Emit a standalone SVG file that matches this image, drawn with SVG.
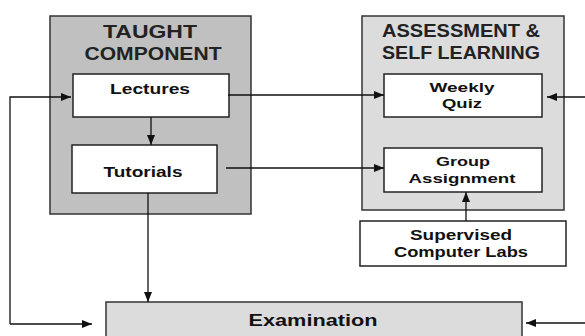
<svg xmlns="http://www.w3.org/2000/svg" width="585" height="336" viewBox="0 0 585 336">
<defs>
<marker id="ah" markerWidth="10" markerHeight="8" refX="10" refY="4" orient="auto" markerUnits="userSpaceOnUse">
<path d="M0,0 L10,4 L0,8 Z" fill="#111"/>
</marker>
<style>
.panelA{fill:#c0c0c0;stroke:#333;stroke-width:1.5}
.panelB{fill:#dcdcdc;stroke:#333;stroke-width:1.5}
.box{fill:#fff;stroke:#222;stroke-width:1.5}
.title{font-family:"Liberation Sans",Arial,sans-serif;font-weight:bold;font-size:18px;fill:#222;text-anchor:middle}
.lbl{font-family:"Liberation Sans",Arial,sans-serif;font-weight:bold;font-size:15px;fill:#111;text-anchor:middle}
.sm{font-size:13.5px}
.ex{font-family:"Liberation Sans",Arial,sans-serif;font-weight:bold;font-size:16px;fill:#111;text-anchor:middle}
.c{fill:none;stroke:#111;stroke-width:1.3;marker-end:url(#ah)}
</style>
</defs>
<g id="taught">
<rect class="panelA" x="50" y="16" width="201" height="198"/>
<text class="title" x="150" y="38" textLength="94" lengthAdjust="spacingAndGlyphs">TAUGHT</text>
<text class="title" x="153" y="60" textLength="137" lengthAdjust="spacingAndGlyphs">COMPONENT</text>
</g>
<g id="assessment">
<rect class="panelB" x="362" y="16" width="202" height="194"/>
<text class="title" x="461" y="37" textLength="158" lengthAdjust="spacingAndGlyphs">ASSESSMENT &amp;</text>
<text class="title" x="461" y="59" textLength="158" lengthAdjust="spacingAndGlyphs">SELF LEARNING</text>
</g>
<g id="lectures">
<rect class="box" x="73" y="74" width="156" height="43"/>
<text class="lbl" x="150" y="94" textLength="80" lengthAdjust="spacingAndGlyphs">Lectures</text>
</g>
<g id="tutorials">
<rect class="box" x="72" y="145" width="145" height="48"/>
<text class="lbl" x="143" y="177" textLength="79" lengthAdjust="spacingAndGlyphs">Tutorials</text>
</g>
<g id="quiz">
<rect class="box" x="384" y="74" width="158" height="43"/>
<text class="lbl sm" x="462" y="92" textLength="65" lengthAdjust="spacingAndGlyphs">Weekly</text>
<text class="lbl sm" x="462" y="108" textLength="40" lengthAdjust="spacingAndGlyphs">Quiz</text>
</g>
<g id="group">
<rect class="box" x="384" y="148" width="158" height="44"/>
<text class="lbl sm" x="463" y="166" textLength="54" lengthAdjust="spacingAndGlyphs">Group</text>
<text class="lbl sm" x="462" y="183" textLength="107" lengthAdjust="spacingAndGlyphs">Assignment</text>
</g>
<g id="labs">
<rect class="box" x="360" y="221" width="206" height="45"/>
<text class="lbl" x="461" y="240" textLength="102" lengthAdjust="spacingAndGlyphs">Supervised</text>
<text class="lbl" x="461" y="257" textLength="134" lengthAdjust="spacingAndGlyphs">Computer Labs</text>
</g>
<g id="examination">
<rect x="106" y="302" width="416" height="40" fill="#dcdcdc" stroke="#333" stroke-width="1.5"/>
<text class="ex" x="313" y="326" textLength="129" lengthAdjust="spacingAndGlyphs">Examination</text>
</g>
<g id="connectors">
<line class="c" x1="151" y1="117" x2="151" y2="145"/>
<line class="c" x1="148" y1="193" x2="148" y2="302"/>
<line class="c" x1="228" y1="95" x2="384" y2="95"/>
<line class="c" x1="226" y1="168" x2="384" y2="168"/>
<line class="c" x1="466" y1="221" x2="466" y2="192"/>
<polyline class="c" points="10,324 10,97 71,97"/>
<line class="c" x1="10" y1="324" x2="92" y2="324"/>
<line class="c" x1="585" y1="97" x2="547" y2="97"/>
<line class="c" x1="585" y1="323" x2="526" y2="323"/>
</g>
</svg>
